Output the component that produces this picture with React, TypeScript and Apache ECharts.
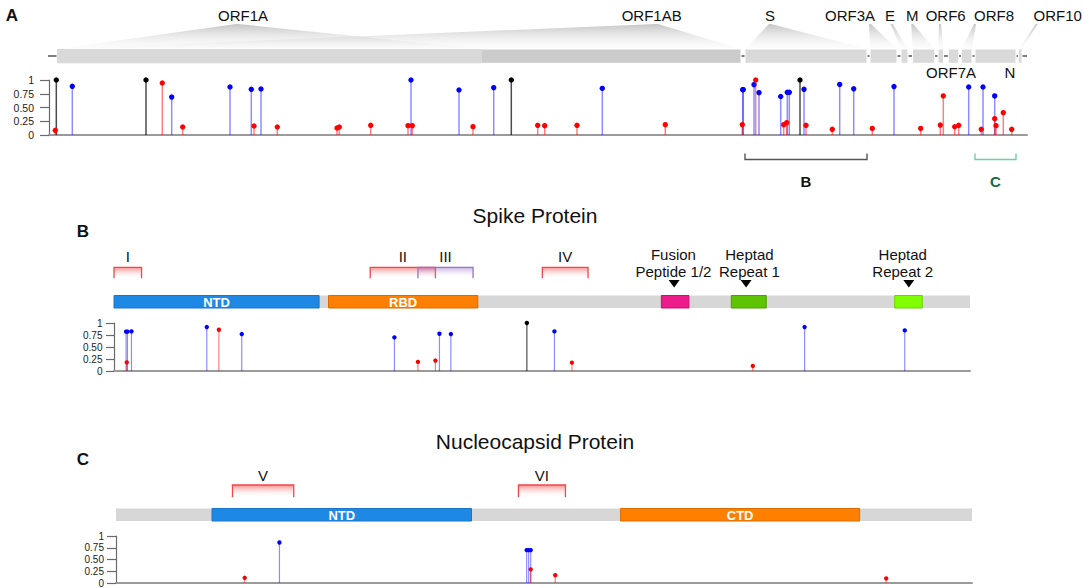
import { useEffect, useRef } from 'react';
import * as echarts from 'echarts';

const FONT = '"Liberation Sans", Arial, Helvetica, sans-serif';

// ---------------- Panel A: genome track (positions in track units along the genome) ----------------
const genomeLength = 978;
const geneNames = ['ORF1AB', 'ORF1A', 'S', 'ORF3A', 'E', 'M', 'ORF6', 'ORF7A', 'ORF8', 'N', 'ORF10'];
const geneStart = [8, 8, 696, 821, 852, 863.5, 889, 899.3, 912.5, 926, 969.5];
const geneEnd = [692, 433, 818, 848, 859, 885.5, 894.5, 909.5, 923, 967, 973];
const geneLabelAt = [602.7, 194, 721, 801, 841, 863.3, 896.7, 902, 945, 961, 1008.7];
const geneApexAt: (number | null)[] = [608, 188, 721, 821, 842.7, 863.3, 891, null, 926, null, 987.7];
const geneLabelBelow = [false, false, false, false, false, false, false, true, false, true, false];

const zoomLabels = ['B', 'C'];
const zoomGenes = ['S', 'N'];

const genomeBlack = [[7.3, 1.0], [97, 1.0], [462.3, 1.0], [751, 1.0]];
const genomeBlue = [
  [23.3, 0.885], [122.7, 0.69], [181, 0.873], [202.3, 0.83], [212, 0.836], [362, 1.0], [410, 0.818],
  [444.7, 0.86], [553.3, 0.848], [693.7, 0.824], [694.3, 0.824], [705, 0.915], [710, 0.77], [731.7, 0.7],
  [738.3, 0.776], [740.3, 0.776], [755, 0.83], [790.7, 0.92], [804.7, 0.84], [845, 0.88], [919.7, 0.873],
  [934, 0.873], [945.7, 0.71],
];
const genomeRed = [
  [6.3, 0.085], [113.3, 0.945], [133.7, 0.145], [205, 0.164], [228.3, 0.145], [288, 0.127], [290.3, 0.145],
  [321.7, 0.176], [359, 0.17], [363.3, 0.17], [424, 0.152], [488.7, 0.176], [495.7, 0.17], [528, 0.176],
  [616.3, 0.188], [693.3, 0.188], [706.7, 1.0], [734.7, 0.188], [737.7, 0.224], [757, 0.176], [783.3, 0.103],
  [823.3, 0.12], [871.7, 0.12], [891.3, 0.18], [894.3, 0.71], [905.7, 0.15], [909.7, 0.176], [932.3, 0.103],
  [945.7, 0.297], [947, 0.17], [954.3, 0.406], [962.7, 0.103],
];

// ---------------- Panel B: Spike protein (amino-acid positions) ----------------
const spikeLength = 1273;
const spikeDomainNames = ['', 'NTD', 'RBD', '', '', ''];
const spikeDomainStart = [0, 0, 319, 814, 918, 1161];
const spikeDomainEnd = [1273, 305, 541, 855, 970, 1202];
const spikeFeatureNames = ['Fusion\nPeptide 1/2', 'Heptad\nRepeat 1', 'Heptad\nRepeat 2'];
const spikeFeatureAt = [833, 940, 1182];
const spikeFeatureLabelAt = [832, 945, 1173];
const spikeRegionNames = ['I', 'II', 'III', 'IV'];
const spikeRegionStart = [0, 381, 452, 637];
const spikeRegionEnd = [41, 478, 534, 705];

const spikeBlack = [[614, 1.0]];
const spikeBlue = [
  [18, 0.82], [20, 0.82], [26, 0.825], [138, 0.916], [190, 0.77], [417, 0.7], [484, 0.776], [501, 0.77],
  [655, 0.825], [1027, 0.916], [1176, 0.846],
];
const spikeRed = [[19, 0.18], [156, 0.86], [452, 0.19], [478, 0.217], [681, 0.175], [950, 0.105]];

// ---------------- Panel C: Nucleocapsid protein (amino-acid positions) ----------------
const nucLength = 419;
const nucDomainNames = ['', 'NTD', 'CTD'];
const nucDomainStart = [0, 47, 247];
const nucDomainEnd = [419, 174, 364];
const nucRegionNames = ['V', 'VI'];
const nucRegionStart = [57, 197];
const nucRegionEnd = [87, 220];

const nucBlue = [[80, 0.862], [201, 0.7], [202, 0.7], [203, 0.7]];
const nucRed = [[63, 0.11], [203, 0.29], [215, 0.166], [377, 0.097]];

const yTicks = [0, 0.25, 0.5, 0.75, 1];

// ---------------- styles ----------------
const spikeDomainFill = ['#d7d7d7', '#1e88e5', '#ff8000', '#ec1c8c', '#5ec400', '#80ff00'];
const spikeDomainStroke = ['#d7d7d7', '#1976c9', '#d96c00', '#c0146f', '#4aa000', '#6ad400'];
const nucDomainFill = ['#d7d7d7', '#1e88e5', '#ff8000'];
const nucDomainStroke = ['#d7d7d7', '#1976c9', '#d96c00'];
const spikeRegionStroke = ['#f04848', '#f04848', '#9575c8', '#f04848'];
const spikeRegionTint = ['rgba(255,30,30,0.5)', 'rgba(255,30,30,0.5)', 'rgba(120,70,190,0.42)', 'rgba(255,30,30,0.5)'];
const zoomStroke = ['#555555', '#6fd0a0'];
const zoomText = ['#111111', '#1c6b3a'];

const BLUE = '#0000ff';
const RED = '#ff0000';
const BLACK = '#000000';
const BLUE_STEM = 'rgba(0,0,255,0.45)';
const RED_STEM = 'rgba(255,0,0,0.5)';
const BLACK_STEM = 'rgba(0,0,0,0.7)';

function lollipop(idx: number, data: number[][], dot: string, stem: string, r: number, w: number, z: number) {
  return {
    type: 'custom',
    xAxisIndex: idx,
    yAxisIndex: idx,
    data,
    clip: false,
    silent: true,
    z,
    encode: { x: 0, y: 1 },
    renderItem: (_p: any, api: any) => {
      const p0 = api.coord([api.value(0), 0]);
      const p1 = api.coord([api.value(0), api.value(1)]);
      return {
        type: 'group',
        children: [
          { type: 'line', shape: { x1: p0[0], y1: p0[1], x2: p1[0], y2: p1[1] }, style: { stroke: stem, lineWidth: w } },
          { type: 'circle', shape: { cx: p1[0], cy: p1[1], r }, style: { fill: dot } },
        ],
      };
    },
  };
}

function domainSeries(idx: number, starts: number[], ends: number[], names: string[], fills: string[], strokes: string[]) {
  return {
    type: 'custom',
    xAxisIndex: idx,
    yAxisIndex: idx,
    data: starts.map((s, i) => [s, ends[i]]),
    clip: false,
    silent: true,
    z: 2,
    encode: { x: [0, 1] },
    renderItem: (params: any, api: any) => {
      const i = params.dataIndex;
      const top = api.coord([0, 1])[1];
      const x1 = api.coord([api.value(0), 0])[0];
      const x2 = api.coord([api.value(1), 0])[0];
      const y = top - 27.5;
      const h = 12.5;
      const children: any[] = [
        {
          type: 'rect',
          shape: { x: x1, y, width: x2 - x1, height: h },
          style: { fill: fills[i], stroke: i === 0 ? null : strokes[i], lineWidth: 1 },
        },
      ];
      if (names[i]) {
        children.push({
          type: 'text',
          x: (x1 + x2) / 2,
          y: y + h / 2 + 0.5,
          style: { text: names[i], fill: '#ffffff', fontSize: 13, fontWeight: 'bold', fontFamily: FONT, align: 'center', verticalAlign: 'middle' },
        });
      }
      return { type: 'group', children };
    },
  };
}

function regionSeries(idx: number, starts: number[], ends: number[], names: string[], strokes: string[], tints: string[], topOff: number, botOff: number, labelOff: number) {
  return {
    type: 'custom',
    xAxisIndex: idx,
    yAxisIndex: idx,
    data: starts.map((s, i) => [s, ends[i]]),
    clip: false,
    silent: true,
    z: 2,
    encode: { x: [0, 1] },
    renderItem: (params: any, api: any) => {
      const i = params.dataIndex;
      const top = api.coord([0, 1])[1];
      const x1 = api.coord([api.value(0), 0])[0];
      const x2 = api.coord([api.value(1), 0])[0];
      const yT = top + topOff;
      const yB = top + botOff;
      return {
        type: 'group',
        children: [
          {
            type: 'rect',
            shape: { x: x1, y: yT, width: x2 - x1, height: yB - yT },
            style: {
              fill: new echarts.graphic.LinearGradient(0, 0, 0, 1, [
                { offset: 0, color: tints[i] },
                { offset: 1, color: 'rgba(255,255,255,0)' },
              ]),
            },
          },
          {
            type: 'polyline',
            shape: { points: [[x1, yB], [x1, yT], [x2, yT], [x2, yB]] },
            style: { stroke: strokes[i], lineWidth: 1.3, fill: null },
          },
          {
            type: 'text',
            x: (x1 + x2) / 2,
            y: top + labelOff,
            style: { text: names[i], fill: '#111', fontSize: 15, fontFamily: FONT, align: 'center', verticalAlign: 'middle' },
          },
        ],
      };
    },
  };
}

function yAxisCfg(idx: number, tickLen: number, margin: number, fs: number) {
  return {
    type: 'value',
    gridIndex: idx,
    min: 0,
    max: 1,
    interval: 0.25,
    axisLine: { show: true, lineStyle: { color: '#6a6a6a', width: 1.2 } },
    axisTick: { show: true, length: tickLen, lineStyle: { color: '#6a6a6a', width: 1.2 } },
    axisLabel: {
      fontSize: fs,
      color: '#222',
      fontFamily: FONT,
      margin,
      formatter: (v: number) => (yTicks.indexOf(v) >= 0 ? (v === 0 ? '0' : v === 1 ? '1' : v.toFixed(2)) : ''),
    },
    splitLine: { show: false },
  };
}

function xAxisCfg(idx: number, max: number) {
  return {
    type: 'value',
    gridIndex: idx,
    min: 0,
    max,
    axisLine: { show: true, onZero: false, lineStyle: { color: '#9a9a9a', width: 2 } },
    axisTick: { show: false },
    axisLabel: { show: false },
    splitLine: { show: false },
  };
}

export default function App() {
  const ref = useRef<HTMLDivElement>(null);

  useEffect(() => {
    if (!ref.current) return;
    const chart = echarts.init(ref.current, null, { renderer: 'svg' });

    const geneSeries = {
      type: 'custom',
      xAxisIndex: 0,
      yAxisIndex: 0,
      data: geneStart.map((s, i) => [s, geneEnd[i]]),
      clip: false,
      silent: true,
      z: 2,
      encode: { x: [0, 1] },
      renderItem: (params: any, api: any) => {
        const i = params.dataIndex;
        const top = api.coord([0, 1])[1];
        const x1 = api.coord([api.value(0), 0])[0];
        const x2 = api.coord([api.value(1), 0])[0];
        const barY = top - 31;
        const children: any[] = [];
        const apex = geneApexAt[i];
        if (apex != null) {
          const ax = api.coord([apex, 0])[0];
          children.push({
            type: 'polygon',
            shape: { points: [[ax - 1, top - 56], [ax + 1, top - 56], [x2, barY], [x1, barY]] },
            style: {
              fill: new echarts.graphic.LinearGradient(0, 0, 0, 1, [
                { offset: 0, color: 'rgba(150,150,150,0.55)' },
                { offset: 1, color: 'rgba(240,240,240,0.12)' },
              ]),
            },
          });
        }
        children.push({
          type: 'rect',
          shape: { x: x1, y: barY, width: x2 - x1, height: 14.3 },
          style: { fill: i === 0 ? '#cbcbcb' : '#d9d9d9', stroke: i === 1 ? null : '#ffffff', lineWidth: 1 },
        });
        const lx = api.coord([geneLabelAt[i], 0])[0];
        children.push({
          type: 'text',
          x: lx,
          y: geneLabelBelow[i] ? top - 7.3 : top - 65,
          style: { text: geneNames[i], fill: '#111', fontSize: 15, fontFamily: FONT, align: 'center', verticalAlign: 'middle' },
        });
        return { type: 'group', children };
      },
    };

    const backbone = {
      type: 'custom',
      xAxisIndex: 0,
      yAxisIndex: 0,
      data: [[0, genomeLength]],
      clip: false,
      silent: true,
      z: 1,
      encode: { x: [0, 1] },
      renderItem: (_p: any, api: any) => {
        const top = api.coord([0, 1])[1];
        const x1 = api.coord([api.value(0), 0])[0] - 1;
        const x2 = api.coord([api.value(1), 0])[0];
        return { type: 'line', shape: { x1, y1: top - 24, x2, y2: top - 24 }, style: { stroke: '#555', lineWidth: 1.6 } };
      },
    };

    const zoomSeries = {
      type: 'custom',
      xAxisIndex: 0,
      yAxisIndex: 0,
      data: zoomGenes.map((g) => {
        const gi = geneNames.indexOf(g);
        return [geneStart[gi], geneEnd[gi]];
      }),
      clip: false,
      silent: true,
      z: 2,
      encode: { x: [0, 1] },
      renderItem: (params: any, api: any) => {
        const i = params.dataIndex;
        const base = api.coord([0, 0])[1];
        const x1 = api.coord([api.value(0), 0])[0];
        const x2 = api.coord([api.value(1), 0])[0];
        const y = base + 24.5;
        return {
          type: 'group',
          children: [
            { type: 'polyline', shape: { points: [[x1, y - 6], [x1, y], [x2, y], [x2, y - 6]] }, style: { stroke: zoomStroke[i], lineWidth: 1.4, fill: null } },
            {
              type: 'text',
              x: (x1 + x2) / 2,
              y: base + 46,
              style: { text: zoomLabels[i], fill: zoomText[i], fontSize: 15, fontWeight: 'bold', fontFamily: FONT, align: 'center', verticalAlign: 'middle' },
            },
          ],
        };
      },
    };

    const featureSeries = {
      type: 'custom',
      xAxisIndex: 1,
      yAxisIndex: 1,
      data: spikeFeatureAt.map((a, i) => [a, spikeFeatureLabelAt[i]]),
      clip: false,
      silent: true,
      z: 2,
      encode: { x: [0, 1] },
      renderItem: (params: any, api: any) => {
        const i = params.dataIndex;
        const top = api.coord([0, 1])[1];
        const tx = api.coord([api.value(0), 0])[0];
        const lx = api.coord([api.value(1), 0])[0];
        return {
          type: 'group',
          children: [
            { type: 'polygon', shape: { points: [[tx - 5.5, top - 43], [tx + 5.5, top - 43], [tx, top - 35.5]] }, style: { fill: '#000' } },
            {
              type: 'text',
              x: lx,
              y: top - 60,
              style: { text: spikeFeatureNames[i], fill: '#111', fontSize: 15, lineHeight: 17.5, fontFamily: FONT, align: 'center', verticalAlign: 'middle' },
            },
          ],
        };
      },
    };

    chart.setOption({
      animation: false,
      backgroundColor: '#ffffff',
      textStyle: { fontFamily: FONT },
      grid: [
        { left: 49, top: 80, width: 978, height: 55 },
        { left: 114, top: 323, width: 856, height: 48 },
        { left: 116, top: 536, width: 856, height: 48 },
      ],
      xAxis: [xAxisCfg(0, genomeLength), xAxisCfg(1, spikeLength), xAxisCfg(2, nucLength)],
      yAxis: [yAxisCfg(0, 9, 15, 10.5), yAxisCfg(1, 8, 11.5, 10), yAxisCfg(2, 9, 12, 10)],
      graphic: [
        { type: 'text', x: 12, y: 15, style: { text: 'A', fontSize: 17, fontWeight: 'bold', fontFamily: FONT, fill: '#111', align: 'center', verticalAlign: 'middle' } },
        { type: 'text', x: 83, y: 231, style: { text: 'B', fontSize: 17, fontWeight: 'bold', fontFamily: FONT, fill: '#111', align: 'center', verticalAlign: 'middle' } },
        { type: 'text', x: 83, y: 459, style: { text: 'C', fontSize: 17, fontWeight: 'bold', fontFamily: FONT, fill: '#111', align: 'center', verticalAlign: 'middle' } },
        { type: 'text', x: 535, y: 215, style: { text: 'Spike Protein', fontSize: 21, fontFamily: FONT, fill: '#111', align: 'center', verticalAlign: 'middle' } },
        { type: 'text', x: 535, y: 441, style: { text: 'Nucleocapsid Protein', fontSize: 21, fontFamily: FONT, fill: '#111', align: 'center', verticalAlign: 'middle' } },
      ],
      series: [
        backbone,
        geneSeries,
        zoomSeries,
        lollipop(0, genomeBlack, BLACK, BLACK_STEM, 2.7, 1.5, 3),
        lollipop(0, genomeBlue, BLUE, BLUE_STEM, 2.7, 1.5, 4),
        lollipop(0, genomeRed, RED, RED_STEM, 2.7, 1.5, 5),
        domainSeries(1, spikeDomainStart, spikeDomainEnd, spikeDomainNames, spikeDomainFill, spikeDomainStroke),
        regionSeries(1, spikeRegionStart, spikeRegionEnd, spikeRegionNames, spikeRegionStroke, spikeRegionTint, -55.7, -44.7, -66.3),
        featureSeries,
        lollipop(1, spikeBlack, BLACK, BLACK_STEM, 2.2, 1.2, 3),
        lollipop(1, spikeBlue, BLUE, BLUE_STEM, 2.2, 1.2, 4),
        lollipop(1, spikeRed, RED, RED_STEM, 2.2, 1.2, 5),
        domainSeries(2, nucDomainStart, nucDomainEnd, nucDomainNames, nucDomainFill, nucDomainStroke),
        regionSeries(2, nucRegionStart, nucRegionEnd, nucRegionNames, spikeRegionStroke, spikeRegionTint, -51, -38.7, -61),
        lollipop(2, nucBlue, BLUE, BLUE_STEM, 2.2, 1.2, 4),
        lollipop(2, nucRed, RED, RED_STEM, 2.2, 1.2, 5),
      ],
    });

    return () => chart.dispose();
  }, []);

  return <div ref={ref} style={{ position: 'absolute', left: 0, top: 0, width: 1084, height: 588 }} />;
}
